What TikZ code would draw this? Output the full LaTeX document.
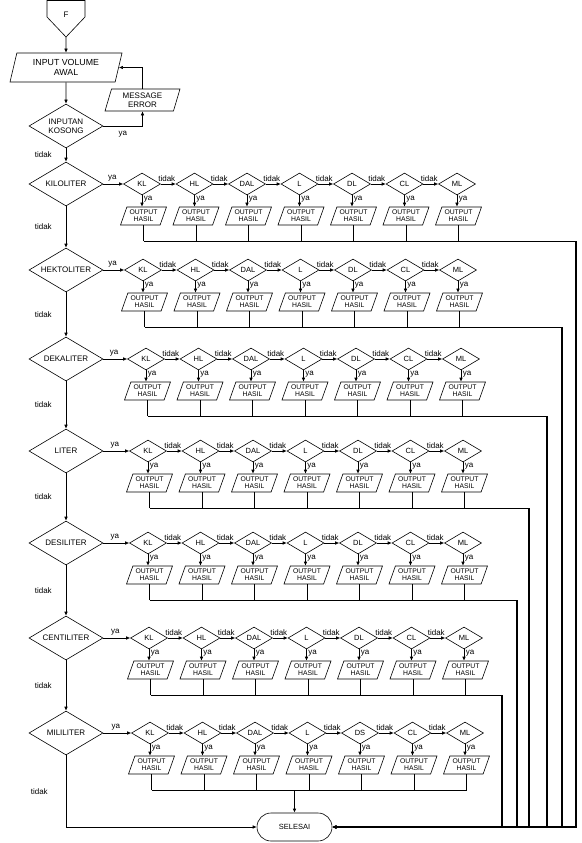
\documentclass[tikz,border=0pt]{standalone}
\usepackage{fontspec}
\setmainfont{Liberation Sans}
\usetikzlibrary{positioning,arrows.meta,shapes.geometric}

\begin{document}
\begin{tikzpicture}[
  x=1pt, y=-1pt, >={Latex[length=4pt,width=3.5pt]},
  line/.style={draw, line width=.6pt},
  arr/.style={->, draw, line width=.6pt},
  bus/.style={->, draw, line width=1.4pt},
  decision/.style={diamond, draw, line width=.6pt, aspect=1.7, inner sep=0pt,
    minimum width=74pt, minimum height=44pt, align=center, font=\fontsize{8}{9}\selectfont},
  unit/.style={diamond, draw, line width=.6pt, aspect=1.7, inner sep=0pt,
    minimum width=37pt, minimum height=22pt, font=\fontsize{7.5}{8}\selectfont},
  io/.style={trapezium, trapezium left angle=62, trapezium right angle=118,
    trapezium stretches body, draw, line width=.6pt, inner sep=0pt, align=center},
  outbox/.style={io, minimum width=46pt, minimum height=18pt, font=\fontsize{6.8}{7.2}\selectfont},
  terminal/.style={draw, line width=.6pt, rounded corners=14pt, minimum width=75pt,
    minimum height=28pt, font=\fontsize{7.5}{8}\selectfont},
  lbl/.style={inner sep=0pt, font=\fontsize{8}{9}\selectfont}
]
\useasboundingbox (0,0) rectangle (581,843);

% start
\draw[line] (47,0.5) -- (85,0.5) -- (85,17) -- (66,37) -- (47,17) -- cycle;
\node[font=\fontsize{8}{9}\selectfont] (f) at (66,15) {F};
\coordinate (ftip) at (66,37);
\node[io, trapezium left angle=67, trapezium right angle=113, minimum width=112pt,
  minimum height=29pt, font=\fontsize{8.8}{10}\selectfont] (input) at (66,67.5) {INPUT VOLUME\\AWAL};
\node[decision] (kosong) at (66,126) {INPUTAN\\KOSONG};
\node[io, trapezium left angle=66, trapezium right angle=114, minimum width=75pt,
  minimum height=22pt, font=\fontsize{8}{9}\selectfont] (msg) at (142.5,100) {MESSAGE\\ERROR};
\node[terminal] (end) at (294.5,827) {SELESAI};

\draw[arr] (ftip) -- (input);
\draw[arr] (input) -- (kosong);
\draw[arr] (kosong.east) -| node[lbl, below=5pt, pos=.25] {ya} (msg.south);
\draw[arr] (msg.north) |- (input.east);

% one row for each unit
\foreach \name/\yc/\xs/\xr/\dl [count=\r] in {KILOLITER/184/142/576/DL,
    HEKTOLITER/270/143/562/DL, DEKALITER/359/146/547/DL, LITER/451/148/529/DL,
    DESILITER/543/148/517/DL, CENTILITER/638/149/502/DL, MILILITER/733/150/0/DS}{
  \node[decision] (d\r) at (66,\yc) {\name};
  \foreach \u [count=\k] in {KL,HL,DAL,L,\dl,CL,ML}{
    \node[unit] (u\r-\k) at ({\xs+52.5*(\k-1)},\yc) {\u};
    \node[outbox] (o\r-\k) at ({\xs+52.5*(\k-1)+1.5},\yc+32) {OUTPUT\\HASIL};
    \coordinate (b\r-\k) at ([yshift=-16pt]o\r-\k.south);
    \draw[arr] (u\r-\k) -- node[lbl, right=1.5pt, pos=.35] {ya} (u\r-\k.south |- o\r-\k.north);
    \draw[line] (o\r-\k.south) -- (b\r-\k);
  }
  \foreach \k [evaluate=\k as \j using int(\k+1)] in {1,...,6}
    \draw[arr] (u\r-\k) -- node[lbl, above=2pt, pos=.4] {tidak} (u\r-\j);
  \draw[arr] (d\r) -- node[lbl, above=3pt, pos=.45] {ya} (u\r-1);
  \draw[line] (b\r-1) -- (b\r-7);
  \ifnum\r<7
    \coordinate (c\r) at (\xr,827);
    \draw[bus] (b\r-7) -| (c\r) -- (end.east);
  \fi
}

\draw[arr] (kosong) -- node[lbl, left=14pt] {tidak} (d1);
\foreach \u/\v in {1/2,2/3,3/4,4/5,5/6,6/7}
  \draw[arr] (d\u) -- node[lbl, left=14pt] {tidak} (d\v);
\draw[arr] (d7) |- node[lbl, left=18pt, pos=.25] {tidak} (end);
\draw[bus] (end.north |- b7-1) -- (end.north);
\end{tikzpicture}
\end{document}
